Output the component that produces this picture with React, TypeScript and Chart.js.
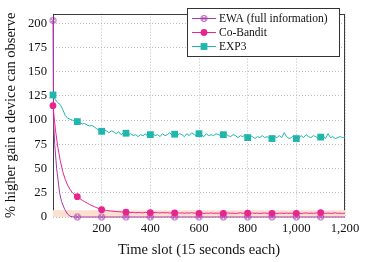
import { useEffect, useRef } from 'react';
import { Chart, registerables } from 'chart.js';

Chart.register(...registerables);

// ---- data ----
const timeSlots: number[] = Array.from({ length: 121 }, (_, i) => i * 10);

const ewaX = [0, 1, 3, 7, 15, 27, 35, 48, 60, 70, 80, 90, 100, 200, 300, 400, 500, 600, 700, 800, 900, 1000, 1100, 1200];
const ewaY = [203, 150, 100, 75, 50, 25, 16, 8, 3, 0.8, 0.2, 0, 0, 0, 0, 0, 0, 0, 0, 0, 0, 0, 0, 0];

const coBanditY = [
  115, 90, 72, 58, 47, 39, 33, 28.5, 25, 22.8,
  21, 19, 17.3, 15.8, 14.5, 13, 11.8, 10.6, 9.6, 8.5,
  7.6, 7.2, 6.8, 6.4, 6.1, 5.9, 5.7, 5.5, 5.3, 5.1,
  4.9, 5.0, 4.6, 4.8, 4.3, 4.7, 4.5, 4.2, 4.8, 4.4,
  4.6, 4.3, 4.7, 4.4, 4.2, 4.6, 4.3, 4.5, 4.1, 4.4,
  4.2, 4.5, 4.0, 4.3, 3.9, 4.2, 4.0, 4.4, 3.9, 4.1,
  3.8, 4.1, 3.7, 4.0, 3.8, 4.2, 3.7, 4.0, 3.8, 4.1,
  3.7, 3.9, 4.2, 3.8, 4.0, 3.6, 3.9, 4.3, 3.8, 4.1,
  4.0, 3.7, 4.1, 3.8, 4.0, 3.6, 3.9, 4.2, 3.7, 4.0,
  3.8, 4.1, 3.6, 3.9, 4.0, 3.7, 4.1, 3.8, 4.0, 3.7,
  3.8, 4.0, 3.6, 3.9, 4.2, 3.7, 4.0, 3.8, 4.1, 4.3,
  4.6, 4.0, 3.8, 4.1, 3.7, 3.9, 4.2, 3.8, 4.0, 3.7,
  3.9,
];

const exp3Y = [
  126, 121, 118, 116, 111, 105, 102, 101, 100, 99,
  98.5, 97.5, 96, 96.5, 95, 94, 94.5, 93, 91, 89.5,
  88.5, 90, 89, 87, 89, 88, 86, 88, 85, 87,
  86.5, 85, 86, 84, 85, 83, 85, 84, 86, 83,
  85, 86, 84, 85, 83, 86, 84, 85, 87, 84,
  85.5, 84, 86, 85, 83, 86, 84, 87, 85, 84,
  86, 85, 83, 86, 84, 85, 84, 86, 85, 84,
  85, 86, 84, 83, 85, 84, 82, 84, 83, 85,
  82, 84, 83, 81, 83, 82, 84, 82, 83, 81,
  81, 83, 82, 84, 82, 87, 83, 81, 82, 84,
  81, 82, 84, 82, 85, 83, 82, 84, 83, 81,
  82.5, 84, 81, 86, 82, 83, 81, 82, 83, 82,
  82.5,
];

const bandX = [0, 1200];
const bandY = [7, 7];

const yTickValues = [0, 25, 50, 75, 100, 125, 150, 175, 200];
const xTickValues = [0, 200, 400, 600, 800, 1000, 1200];

const seriesNames = ['EWA (full information)', 'Co-Bandit', 'EXP3'];

// ---- styles ----
const EWA_COLOR = '#a63aa8';
const CO_COLOR = '#e8248e';
const EXP3_COLOR = '#1fb6ac';
const BAND_COLOR = '#fddfd0';
const SERIF = '"Liberation Serif", "Times New Roman", serif';

function makeOtimes(color: string): HTMLCanvasElement {
  const c = document.createElement('canvas');
  c.width = 9;
  c.height = 9;
  const g = c.getContext('2d')!;
  g.strokeStyle = color;
  g.lineWidth = 1;
  g.beginPath();
  g.arc(4.5, 4.5, 3, 0, Math.PI * 2);
  g.stroke();
  g.beginPath();
  g.moveTo(2.4, 2.4);
  g.lineTo(6.6, 6.6);
  g.moveTo(6.6, 2.4);
  g.lineTo(2.4, 6.6);
  g.stroke();
  return c;
}

const markerAtHundreds = (r: number) => (ctx: any) => {
  const x = ctx.raw && ctx.raw.x;
  return typeof x === 'number' && x % 100 === 0 && x < 1200 ? r : 0;
};

export default function App() {
  const ref = useRef<HTMLCanvasElement | null>(null);

  useEffect(() => {
    if (!ref.current) return;
    const otimes = makeOtimes(EWA_COLOR);

    const frameLegend = {
      id: 'frameLegend',
      beforeDatasetsDraw(chart: any) {
        const { ctx, chartArea: a } = chart;
        ctx.save();
        ctx.strokeStyle = '#3c3c3c';
        ctx.lineWidth = 1;
        ctx.strokeRect(
          Math.round(a.left) + 0.5,
          Math.round(a.top) + 0.5,
          Math.round(a.right - a.left) - 1,
          Math.round(a.bottom - a.top) - 1
        );
        ctx.restore();
      },
      afterDraw(chart: any) {
        const { ctx } = chart;
        ctx.save();
        const bx = 187.5, by = 8.5, bw = 152, bh = 48;
        ctx.fillStyle = '#ffffff';
        ctx.fillRect(bx, by, bw, bh);
        ctx.strokeStyle = '#333333';
        ctx.lineWidth = 1;
        ctx.strokeRect(bx, by, bw, bh);
        const rows = [18.5, 32.5, 46.5];
        const colors = [EWA_COLOR, CO_COLOR, EXP3_COLOR];
        ctx.font = '11.5px ' + SERIF;
        ctx.textBaseline = 'middle';
        ctx.textAlign = 'left';
        rows.forEach((y, i) => {
          ctx.strokeStyle = colors[i];
          ctx.lineWidth = 1;
          ctx.beginPath();
          ctx.moveTo(192, y);
          ctx.lineTo(216, y);
          ctx.stroke();
          const mx = 204;
          if (i === 0) {
            ctx.drawImage(otimes, mx - 4.5, y - 4.5);
          } else if (i === 1) {
            ctx.fillStyle = colors[i];
            ctx.beginPath();
            ctx.arc(mx, y, 3.4, 0, Math.PI * 2);
            ctx.fill();
          } else {
            ctx.fillStyle = colors[i];
            ctx.fillRect(mx - 3.4, y - 3.4, 6.8, 6.8);
          }
          ctx.fillStyle = '#111111';
          ctx.fillText(seriesNames[i], 219, y + 0.5);
        });
        ctx.restore();
      },
    };

    const gridOpts = {
      color: '#bdbdbd',
      lineWidth: 1,
      drawTicks: false,
    };

    const chart = new Chart(ref.current, {
      type: 'line',
      data: {
        datasets: [
          {
            label: seriesNames[2],
            data: timeSlots.map((x, i) => ({ x, y: exp3Y[i] })),
            borderColor: EXP3_COLOR,
            backgroundColor: EXP3_COLOR,
            borderWidth: 1,
            pointStyle: 'rect',
            pointRadius: markerAtHundreds(4.8),
            pointBorderWidth: 0,
            tension: 0,
            clip: false,
            order: 1,
          },
          {
            label: seriesNames[1],
            data: timeSlots.map((x, i) => ({ x, y: coBanditY[i] })),
            borderColor: CO_COLOR,
            backgroundColor: CO_COLOR,
            borderWidth: 1,
            pointStyle: 'circle',
            pointRadius: markerAtHundreds(3.4),
            pointBorderWidth: 0,
            tension: 0,
            clip: false,
            order: 2,
          },
          {
            label: seriesNames[0],
            data: ewaX.map((x, i) => ({ x, y: ewaY[i] })),
            borderColor: EWA_COLOR,
            backgroundColor: EWA_COLOR,
            borderWidth: 1,
            pointStyle: otimes as any,
            pointRadius: markerAtHundreds(4),
            tension: 0,
            clip: false,
            order: 3,
          },
          {
            label: 'band',
            data: bandX.map((x, i) => ({ x, y: bandY[i] })),
            borderWidth: 0,
            borderColor: 'rgba(0,0,0,0)',
            backgroundColor: BAND_COLOR,
            fill: 'origin',
            pointRadius: 0,
            order: 4,
          },
        ],
      },
      options: {
        animation: false,
        responsive: false,
        devicePixelRatio: 1,
        layout: { padding: { top: 3, right: 21, left: 0, bottom: 0 } },
        plugins: {
          legend: { display: false },
          tooltip: { enabled: false },
        },
        scales: {
          x: {
            type: 'linear',
            min: 0,
            max: 1200,
            afterBuildTicks: (axis: any) => {
              axis.ticks = xTickValues.map((v) => ({ value: v }));
            },
            afterFit: (scale: any) => {
              scale.height = 45;
            },
            ticks: {
              font: { family: SERIF, size: 12.7 },
              color: '#111',
              padding: 4,
              maxRotation: 0,
              autoSkip: false,
              callback: (v: any) => (v === 0 ? '' : Number(v).toLocaleString('en-US')),
            },
            grid: gridOpts,
            border: { display: false, dash: [1, 2] },
            title: {
              display: true,
              text: 'Time slot (15 seconds each)',
              font: { family: SERIF, size: 14.5 },
              color: '#111',
              padding: { top: 0, bottom: 3 },
            },
          },
          y: {
            type: 'linear',
            min: 0,
            max: 210,
            afterBuildTicks: (axis: any) => {
              axis.ticks = yTickValues.map((v) => ({ value: v }));
            },
            afterFit: (scale: any) => {
              scale.width = 53;
            },
            ticks: {
              font: { family: SERIF, size: 12.7 },
              color: '#111',
              padding: 6,
              autoSkip: false,
            },
            grid: gridOpts,
            border: { display: false, dash: [1, 2] },
            title: {
              display: true,
              text: '% higher gain a device can observe',
              font: { family: SERIF, size: 14.5 },
              color: '#111',
              padding: { top: 2, bottom: 0 },
            },
          },
        },
      },
      plugins: [frameLegend],
    } as any);

    return () => chart.destroy();
  }, []);

  return (
    <div style={{ position: 'absolute', left: 0, top: 0, width: 366, height: 262, background: '#fff' }}>
      <canvas ref={ref} width={366} height={262} style={{ display: 'block', width: 366, height: 262 }} />
    </div>
  );
}
